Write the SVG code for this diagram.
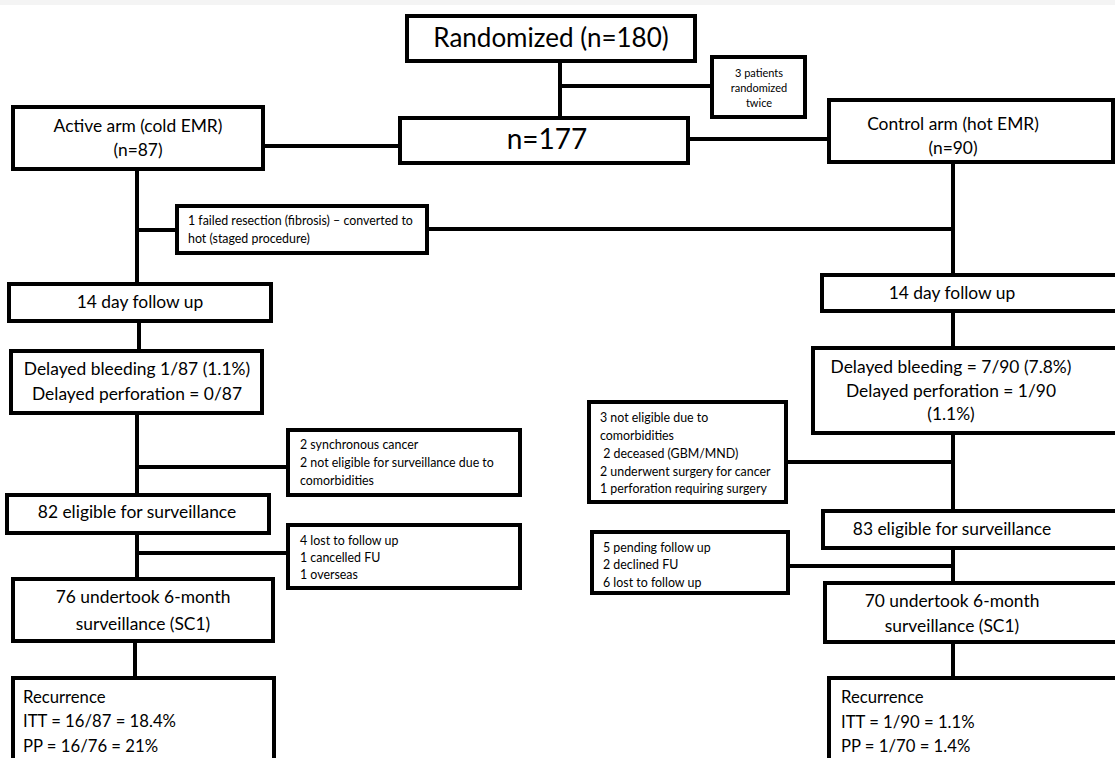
<svg xmlns="http://www.w3.org/2000/svg" width="1115" height="758" viewBox="0 0 1115 758">
<style>
.b{fill:#fff;stroke:#000;stroke-width:4}
.c{fill:none;stroke:#000;stroke-width:4}
text{font-family:Lato,"Noto Sans",sans-serif;fill:#000}
.xl{font-size:26px;text-anchor:middle}
.m{font-size:17.4px;text-anchor:middle}
.r{font-size:16.7px}
.s{font-size:12.4px}
.xs{font-size:11px;text-anchor:middle}
</style>
<rect x="0" y="0" width="1115" height="758" fill="#fff"/>
<rect x="0" y="0" width="1115" height="5" fill="#f4f4f4"/>
<g id="connectors">
<path class="c" d="M560 61V118"/>
<path class="c" d="M560 86H712"/>
<path class="c" d="M263 146H400"/>
<path class="c" d="M688 139H829"/>
<path class="c" d="M137 170V284"/>
<path class="c" d="M137 230H177"/>
<path class="c" d="M427 229H953"/>
<path class="c" d="M953 162V275"/>
<path class="c" d="M139 321V351"/>
<path class="c" d="M953 311V348"/>
<path class="c" d="M137 413V495"/>
<path class="c" d="M137 467H288"/>
<path class="c" d="M953 433V511"/>
<path class="c" d="M786 462H953"/>
<path class="c" d="M137 533V579"/>
<path class="c" d="M137 553H288"/>
<path class="c" d="M953 548V583"/>
<path class="c" d="M788 566H953"/>
<path class="c" d="M135 641V678"/>
<path class="c" d="M953 642V678"/>
</g>
<g id="randomized">
<rect class="b" x="407" y="16" width="288" height="45"/>
<text class="xl" x="551" y="47">Randomized (n=180)</text>
</g>
<g id="twice">
<rect class="b" x="712" y="57" width="93" height="60"/>
<text class="xs" x="759" y="77">3 patients</text>
<text class="xs" x="759" y="92">randomized</text>
<text class="xs" x="759" y="107">twice</text>
</g>
<g id="n177">
<rect class="b" x="400" y="118" width="288" height="45"/>
<text class="xl" x="547" y="149" style="font-size:28px">n=177</text>
</g>
<g id="active">
<rect class="b" x="13" y="107" width="250" height="62"/>
<text class="m" x="138" y="132">Active arm (cold EMR)</text>
<text class="m" x="138" y="156">(n=87)</text>
</g>
<g id="control">
<rect class="b" x="829" y="100" width="284" height="62"/>
<text class="m" x="953" y="130">Control arm (hot EMR)</text>
<text class="m" x="953" y="154">(n=90)</text>
</g>
<g id="failed">
<rect class="b" x="177" y="206" width="250" height="47"/>
<text class="s" x="188" y="225">1 failed resection (fibrosis) – converted to</text>
<text class="s" x="188" y="243">hot (staged procedure)</text>
</g>
<g id="fu14-left">
<rect class="b" x="9" y="284" width="262" height="37"/>
<text class="m" x="140" y="308">14 day follow up</text>
</g>
<g id="fu14-right">
<rect class="b" x="822" y="275" width="300" height="36"/>
<text class="m" x="952" y="299">14 day follow up</text>
</g>
<g id="delayed-left">
<rect class="b" x="11" y="351" width="251" height="62"/>
<text class="m" x="137" y="375">Delayed bleeding 1/87 (1.1%)</text>
<text class="m" x="137" y="400">Delayed perforation = 0/87</text>
</g>
<g id="delayed-right">
<rect class="b" x="813" y="348" width="310" height="85"/>
<text class="m" x="951" y="373">Delayed bleeding = 7/90 (7.8%)</text>
<text class="m" x="951" y="397">Delayed perforation = 1/90</text>
<text class="m" x="951" y="420">(1.1%)</text>
</g>
<g id="excl-left-1">
<rect class="b" x="288" y="430" width="232" height="65"/>
<text class="s" x="300" y="449">2 synchronous cancer</text>
<text class="s" x="300" y="467">2 not eligible for surveillance due to</text>
<text class="s" x="300" y="485">comorbidities</text>
</g>
<g id="excl-right-1">
<rect class="b" x="589" y="402" width="197" height="100"/>
<text class="s" x="600" y="422">3 not eligible due to</text>
<text class="s" x="600" y="440">comorbidities</text>
<text class="s" x="600" y="458" xml:space="preserve"> 2 deceased (GBM/MND)</text>
<text class="s" x="600" y="476">2 underwent surgery for cancer</text>
<text class="s" x="600" y="493">1 perforation requiring surgery</text>
</g>
<g id="elig-left">
<rect class="b" x="7" y="495" width="262" height="38"/>
<text class="m" x="137" y="518">82 eligible for surveillance</text>
</g>
<g id="elig-right">
<rect class="b" x="823" y="511" width="300" height="37"/>
<text class="m" x="952" y="535">83 eligible for surveillance</text>
</g>
<g id="excl-left-2">
<rect class="b" x="288" y="525" width="232" height="63"/>
<text class="s" x="300" y="545">4 lost to follow up</text>
<text class="s" x="300" y="562">1 cancelled FU</text>
<text class="s" x="300" y="579">1 overseas</text>
</g>
<g id="excl-right-2">
<rect class="b" x="592" y="532" width="196" height="61"/>
<text class="s" x="603" y="552">5 pending follow up</text>
<text class="s" x="603" y="569">2 declined FU</text>
<text class="s" x="603" y="587">6 lost to follow up</text>
</g>
<g id="sc1-left">
<rect class="b" x="13" y="579" width="260" height="62"/>
<text class="m" x="143" y="603">76 undertook 6-month</text>
<text class="m" x="143" y="630">surveillance (SC1)</text>
</g>
<g id="sc1-right">
<rect class="b" x="825" y="583" width="300" height="59"/>
<text class="m" x="952" y="607">70 undertook 6-month</text>
<text class="m" x="952" y="632">surveillance (SC1)</text>
</g>
<g id="rec-left">
<rect class="b" x="13" y="678" width="261" height="100"/>
<text class="r" x="23" y="703">Recurrence</text>
<text class="r" x="23" y="727">ITT = 16/87 = 18.4%</text>
<text class="r" x="23" y="752">PP = 16/76 = 21%</text>
</g>
<g id="rec-right">
<rect class="b" x="829" y="678" width="300" height="100"/>
<text class="r" x="841" y="703">Recurrence</text>
<text class="r" x="841" y="728">ITT = 1/90 = 1.1%</text>
<text class="r" x="841" y="752">PP = 1/70 = 1.4%</text>
</g>
</svg>
